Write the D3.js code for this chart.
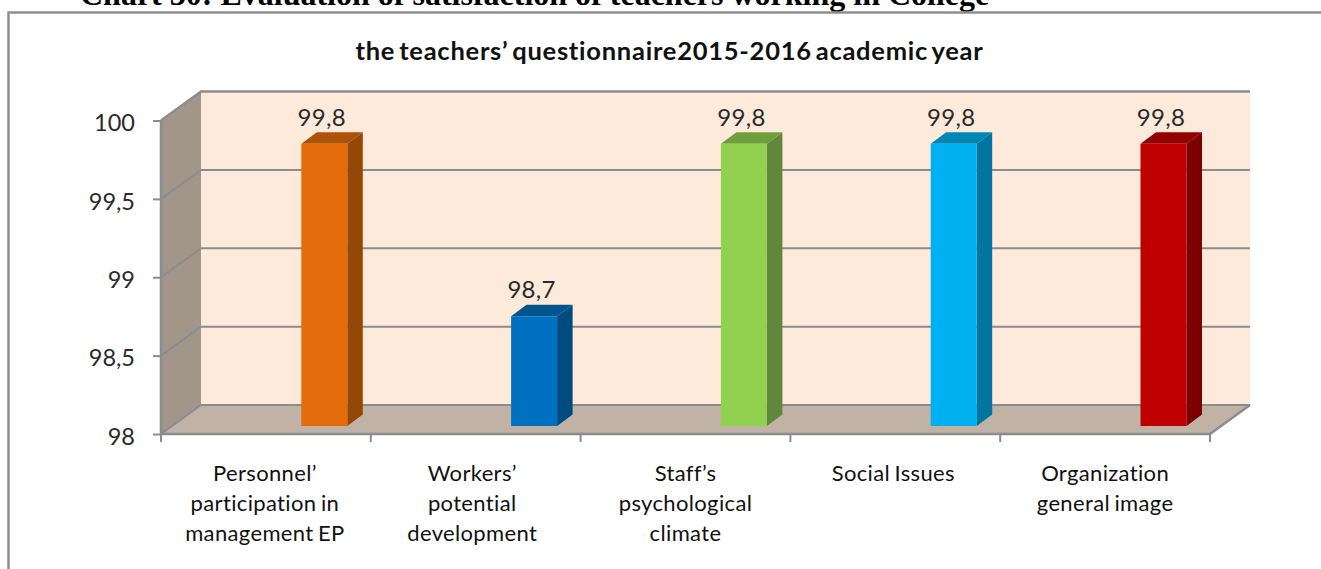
<!DOCTYPE html>
<html><head><meta charset="utf-8">
<script src="https://cdn.jsdelivr.net/npm/d3@7"></script>
<style>html,body{margin:0;padding:0;background:#fff;overflow:hidden}svg{display:block}</style>
</head><body><svg id="c" width="1321" height="569"></svg>
<script>
const categories=[["Personnel’","participation in","management EP"],["Workers’","potential","development"],["Staff’s","psychological","climate"],["Social Issues"],["Organization","general image"]];
const values=[99.8,98.7,99.8,99.8,99.8];
const valueLabels=["99,8","98,7","99,8","99,8","99,8"];
const tickValues=[98,98.5,99,99.5,100];
const tickLabels=["98","98,5","99","99,5","100"];
const frontColors=["#E46C0A","#0070C0","#92D050","#00B0F0","#C00000"];
const sideColors=["#954805","#004B80","#60883A","#00759F","#7C0000"];
const topColors=["#AD5207","#00558F","#6F9F3D","#0086B5","#920000"];
const headerText="Chart 30: Evaluation of satisfaction of teachers working in College";
const titleText="the teachers’ questionnaire2015-2016 academic year";

const svg=d3.select("#c");
const x=d3.scaleBand().domain(d3.range(5)).range([161,1210]);
const y=d3.scaleLinear().domain([98,100]).range([434,120.5]);
const dx=40,dy=-29,grey="#8C8C8C";
const line=d3.line();
const poly=p=>line(p)+"Z";

svg.append("text").attr("x",80).attr("y",5).attr("font-family","Liberation Serif").attr("font-weight","bold").attr("font-size",32).attr("fill","#000").text(headerText);
svg.append("path").attr("d","M8.5,569V12.5H1321").attr("fill","none").attr("stroke","#8E8E8E").attr("stroke-width",2.5);
svg.append("text").attr("x",669.5).attr("y",60).attr("text-anchor","middle").attr("font-family","Lato").attr("font-weight","bold").attr("font-size",25.5).attr("letter-spacing",0.75).attr("word-spacing",-3).attr("fill","#111").text(titleText);

// walls
const xL=x.range()[0],xR=x.range()[1],y0=y(98),y1=y(100);
svg.append("path").attr("d",poly([[xL+dx,y1+dy],[xR+dx,y1+dy],[xR+dx,y0+dy],[xL+dx,y0+dy]])).attr("fill","#FDEADA");
svg.append("path").attr("d",poly([[xL,y0],[xL+dx,y0+dy],[xL+dx,y1+dy],[xL,y1]])).attr("fill","#A2968B");
svg.append("path").attr("d",poly([[xL,y0],[xL+dx,y0+dy],[xR+dx,y0+dy],[xR,y0]])).attr("fill","#C0B2A4");
// grid
tickValues.forEach(v=>{
  svg.append("path").attr("d",line([[xL,y(v)],[xL+dx,y(v)+dy],[xR+dx,y(v)+dy]])).attr("fill","none").attr("stroke",grey).attr("stroke-width",v===100?2.5:2);
});
svg.append("path").attr("d",line([[xL,y1],[xL,y0],[xR,y0],[xR+dx,y0+dy]])).attr("fill","none").attr("stroke",grey).attr("stroke-width",2.5);
// axes
const yAxis=d3.axisLeft(y).tickValues(tickValues).tickSize(8).tickFormat((d,i)=>tickLabels[i]);
const gy=svg.append("g").attr("transform",`translate(${xL},0)`).call(yAxis);
gy.select(".domain").remove();
gy.selectAll("line").attr("stroke",grey).attr("stroke-width",2);
gy.selectAll("text").attr("x",-26).attr("font-family","Lato").attr("font-size",23.5).attr("fill","#2a2a2a").attr("dy","0.44em");
svg.selectAll(".xt").data(d3.range(6)).join("line").attr("x1",i=>xL+i*x.bandwidth()).attr("x2",i=>xL+i*x.bandwidth()).attr("y1",y0).attr("y2",y0+8).attr("stroke",grey).attr("stroke-width",2);
// bars
const barDX=15.5,barDY=-11.5,bw=46,barOffset=58.4,yShift=-8;
const by=v=>y(v)+yShift;
values.forEach((v,i)=>{
  const l=x(i)+x.bandwidth()/2-bw/2+barOffset,r=l+bw,t=by(v),b=by(98);
  const g=svg.append("g");
  g.append("path").attr("d",poly([[r,t],[r+barDX,t+barDY],[r+barDX,b+barDY],[r,b]])).attr("fill",sideColors[i]);
  g.append("path").attr("d",poly([[l,t],[l+barDX,t+barDY],[r+barDX,t+barDY],[r,t]])).attr("fill",topColors[i]);
  g.append("rect").attr("x",l).attr("y",t).attr("width",bw).attr("height",b-t).attr("fill",frontColors[i]);
  svg.append("text").attr("x",l+bw/2-2.5).attr("y",t-18).attr("text-anchor","middle").attr("font-family","Lato").attr("font-size",24).attr("letter-spacing",0.3).attr("fill","#2a2a2a").text(valueLabels[i]);
});
// category labels
const labelNudge=[-1,-3.5,0,-2,0];
categories.forEach((c,i)=>{
  c.forEach((s,j)=>svg.append("text").attr("x",x(i)+x.bandwidth()/2+labelNudge[i]).attr("y",481+j*30).attr("text-anchor","middle").attr("font-family","Lato").attr("font-size",22).attr("letter-spacing",0.35).attr("word-spacing",-1.5).attr("fill","#111").text(s));
});
</script></body></html>
